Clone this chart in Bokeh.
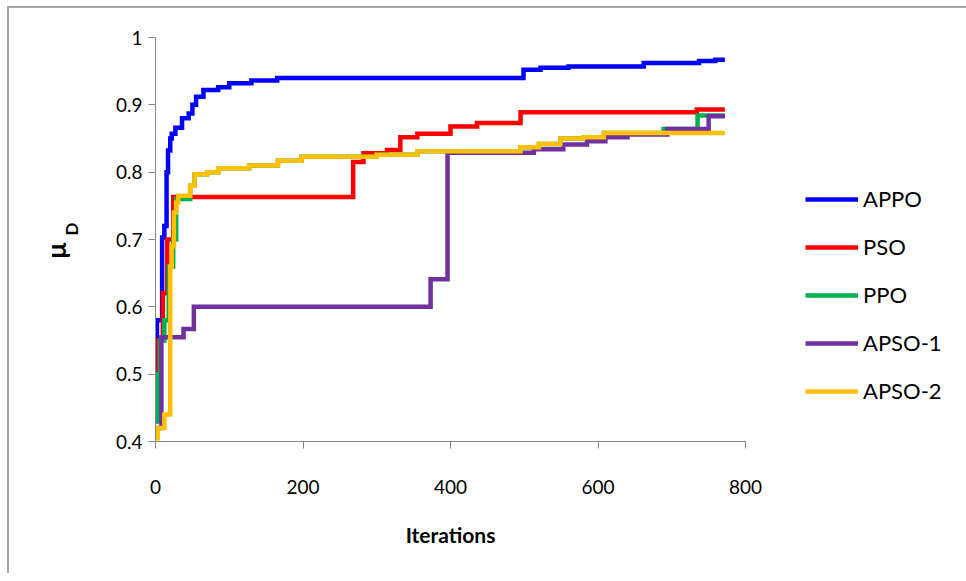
from bokeh.plotting import figure
from bokeh.models import Range1d, Legend, LegendItem, Title, FixedTicker
from bokeh.embed import file_html
from bokeh.resources import INLINE

# ---- data ----
appo_x = [0, 2, 9, 12, 15, 17, 20, 22, 27, 36, 45, 50, 55, 65, 85, 100, 130, 165, 499, 522, 560, 662, 737, 759, 772]
appo_y = [0.50, 0.58, 0.703, 0.72, 0.80, 0.832, 0.85, 0.857, 0.866, 0.88, 0.887, 0.90, 0.912, 0.922, 0.926, 0.932, 0.936, 0.940, 0.952, 0.955, 0.957, 0.962, 0.965, 0.967, 0.967]

pso_x = [0, 4, 10, 16, 24, 268, 282, 314, 332, 355, 400, 436, 495, 734, 772]
pso_y = [0.43, 0.55, 0.62, 0.70, 0.763, 0.815, 0.828, 0.833, 0.852, 0.857, 0.868, 0.873, 0.889, 0.893, 0.893]

ppo_x = [0, 3, 6, 12, 18, 24, 28, 47, 53, 70, 85, 127, 166, 198, 300, 355, 495, 520, 549, 580, 608, 689, 735, 772]
ppo_y = [0.43, 0.50, 0.55, 0.58, 0.66, 0.70, 0.76, 0.78, 0.797, 0.80, 0.806, 0.81, 0.817, 0.823, 0.826, 0.831, 0.837, 0.842, 0.850, 0.852, 0.858, 0.864, 0.884, 0.884]

apso1_x = [0, 8, 38, 52, 373, 396, 513, 553, 585, 610, 640, 694, 750, 772]
apso1_y = [0.42, 0.555, 0.567, 0.60, 0.641, 0.829, 0.834, 0.841, 0.846, 0.852, 0.856, 0.864, 0.883, 0.883]

apso2_x = [0, 3, 12, 20, 22, 25, 28, 31, 47, 53, 70, 85, 127, 166, 198, 300, 355, 495, 520, 549, 580, 608, 772]
apso2_y = [0.405, 0.42, 0.44, 0.66, 0.69, 0.74, 0.755, 0.765, 0.78, 0.797, 0.80, 0.806, 0.81, 0.817, 0.823, 0.826, 0.831, 0.837, 0.842, 0.850, 0.852, 0.858, 0.858]

series_names = ["APPO", "PSO", "PPO", "APSO-1", "APSO-2"]
series_colors = ["#0000FF", "#FF0000", "#00B050", "#7030A0", "#FFC000"]

x_ticks = [0, 200, 400, 600, 800]
y_ticks = [0.4, 0.5, 0.6, 0.7, 0.8, 0.9, 1.0]
y_tick_labels = ["0.4", "0.5", "0.6", "0.7", "0.8", "0.9", "1"]

x_title = "Iterations"
y_title_main = "μ"
y_title_sub = "D"

FONT = "Lato"
AXIS_GRAY = "#868686"

p = figure(frame_width=590, frame_height=404, output_backend="svg", toolbar_location=None,
           x_range=Range1d(0, 800), y_range=Range1d(0.4, 1.0),
           min_border_left=146, min_border_right=214,
           min_border_top=29, min_border_bottom=132,
           styles={"margin-left": "7px", "margin-top": "6px",
                   "border-left": "2px solid #a6a6a6", "border-top": "2px solid #a6a6a6"})
p.outline_line_color = None
p.xgrid.visible = False
p.ygrid.visible = False
p.background_fill_color = "white"
p.border_fill_color = "white"

for ax in (p.xaxis[0], p.yaxis[0]):
    ax.axis_line_color = AXIS_GRAY
    ax.major_tick_line_color = AXIS_GRAY
    ax.minor_tick_line_color = None
    ax.major_tick_in = 0
    ax.major_tick_out = 7
    ax.major_label_text_font = FONT
    ax.major_label_text_font_size = "19px"
    ax.major_label_text_color = "#000000"

p.xaxis.ticker = FixedTicker(ticks=x_ticks)
p.yaxis.ticker = FixedTicker(ticks=y_ticks)
p.yaxis.major_label_overrides = {t: l for t, l in zip(y_ticks, y_tick_labels)}
p.xaxis.major_label_standoff = 31
p.yaxis.major_label_standoff = 6

p.xaxis.axis_label = x_title
p.xaxis.axis_label_text_font = FONT
p.xaxis.axis_label_text_font_style = "bold"
p.xaxis.axis_label_text_font_size = "21px"
p.xaxis.axis_label_text_color = "#000000"
p.xaxis.axis_label_standoff = 25

all_x = [appo_x, pso_x, ppo_x, apso1_x, apso2_x]
all_y = [appo_y, pso_y, ppo_y, apso1_y, apso2_y]
renderers = []
for xs, ys, c in zip(all_x, all_y, series_colors):
    r = p.step(xs, ys, mode="after", line_width=4.5, line_color=c, line_join="miter")
    renderers.append(r)

legend = Legend(items=[LegendItem(label=n, renderers=[r]) for n, r in zip(series_names, renderers)],
                location=(60, 37), orientation="vertical",
                border_line_color=None, background_fill_alpha=0,
                padding=0, margin=0, glyph_width=53, glyph_height=20,
                label_height=20, spacing=21, label_standoff=5,
                label_text_font=FONT, label_text_font_size="22px", label_text_color="#000000")
p.add_layout(legend, "right")

# y-axis title mu_D (rotated titles in the left panel; D added first so it sits nearer the axis)
p.add_layout(Title(text=y_title_sub, align="left", offset=206, standoff=62,
                   text_font=FONT, text_font_style="bold", text_font_size="17px",
                   text_color="#000000"), "left")
p.add_layout(Title(text=y_title_main, align="left", offset=183, standoff=-88,
                   text_font=FONT, text_font_style="bold", text_font_size="26px",
                   text_color="#000000"), "left")

open("out.html", "w").write(file_html(p, INLINE))
